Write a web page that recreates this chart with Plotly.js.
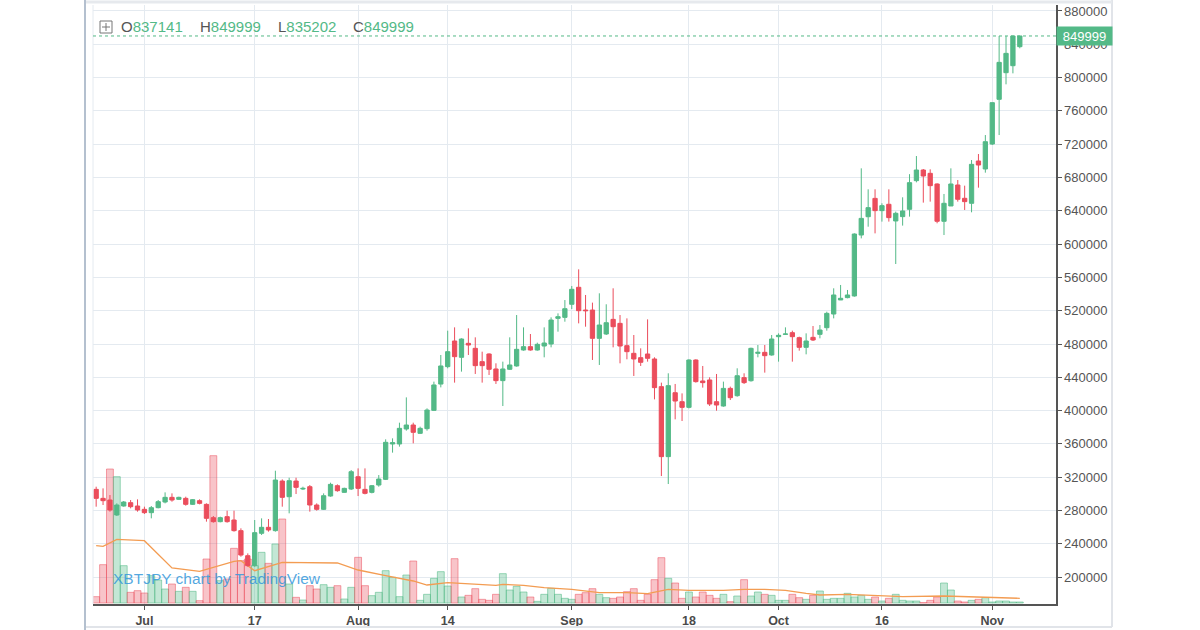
<!DOCTYPE html>
<html><head><meta charset="utf-8">
<script src="https://cdn.plot.ly/plotly-3.0.1.min.js"></script>
<style>html,body{margin:0;padding:0;background:#fff;}#chart{width:1200px;height:630px;}</style>
</head><body><div id="chart"></div>
<script>
// ---- data (daily XBTJPY, 2017-06-24 .. 2017-11-05) ----
const symbol = 'XBTJPY';
const startDay = [2017, 5, 24];
const openP = [
305400,294600,292600,274600,285400,289400,285400,
281400,277400,283400,290200,295800,293400,294600,287400,291800,287400,271400,266600,272600,268600,255800,225700,213700,252600,259800,255800,315400,296600,315400,305800,308600,286600,281400,297400,309800,301800,305800,
320600,305400,301800,310600,317400,359900,359900,377900,382700,372700,378300,400300,431900,452800,483600,464000,480800,474800,458800,468000,450000,436000,449600,453600,472800,476800,472800,477600,480000,510800,512000,
527700,548100,520800,520800,486800,492000,509600,504800,478000,468800,463600,468000,462000,428800,344700,421500,410700,403900,460800,435600,436800,410700,405500,426700,417900,439600,435900,468800,470000,466800,
488800,491600,493600,487600,476000,488000,491600,499600,516000,532900,535700,537700,610900,632900,654900,640200,647800,627800,633000,641800,676200,689000,685000,672200,627400,645800,671000,655000,649000,699800,690200,
720200,773900,805900,814300,837141];
const highP = [
308600,306600,298600,288600,291400,292600,293400,
284600,285400,292600,301800,300600,296600,296600,293800,293400,288600,273400,272600,279800,279800,258600,228500,268600,270600,269800,327800,317400,319400,319400,308600,310600,288600,300600,313400,311400,307400,328600,
330600,330600,310600,322600,365500,366700,385500,415900,385500,380700,402700,434800,466800,496000,500000,486800,498800,488000,470800,468800,456800,458800,488000,514800,500000,492000,481600,500000,512000,516800,532800,
549700,569700,538900,529700,540900,527700,546900,514800,510800,490800,474800,509600,464000,433600,444800,432000,420700,461600,461600,453600,440000,444000,434800,428800,450800,444800,475600,478800,478800,490800,
492800,500000,496000,488800,492800,501600,502800,518800,546900,550900,544900,612900,691000,665800,665800,649000,665800,639000,656200,684000,705800,690200,689800,673000,660200,691000,677000,670200,701000,708200,731000,
769900,850000,850000,850000,849999];
const lowP = [
284600,286600,278600,273400,284600,282600,278600,
275800,270600,282600,288600,290600,292600,285800,286600,287400,266600,265400,265800,265400,254600,224500,212500,212500,250600,254600,254600,284600,276600,299800,304600,278600,279800,280600,296600,302600,301400,304600,
297400,299400,300600,308600,316600,349500,356700,375900,360700,371900,375900,399500,427900,450800,433600,446800,466800,444000,433600,442800,432000,405500,448800,452800,472000,472000,472000,464000,476000,494800,506800,
522000,504800,500800,460800,454800,490800,476000,456800,461600,441600,453600,458800,413500,321400,311800,389500,387500,402700,433600,427600,405500,399900,404700,412700,416700,432000,434800,464000,445600,466000,
458800,490800,458800,472000,467600,483600,486800,496000,510800,532900,534900,536900,606900,620900,612900,627000,627000,576100,622200,633000,674200,649800,651000,625000,610900,645800,651000,641000,638200,667800,685800,
719000,731000,791900,805100,835202];
const closeP = [
294600,291800,280600,286600,290200,284600,280600,
277400,283400,290600,295800,292600,295800,287400,293000,288600,270600,266600,271400,266600,255800,226500,213700,253400,259800,256600,316600,295800,315800,307800,306600,286600,281400,297800,311400,303800,306600,326600,
306600,300600,309800,317800,361900,361500,378700,382700,373900,378700,400700,430800,453600,470800,464800,486000,478800,454000,454000,449600,436000,450000,454800,473600,476800,472800,479600,481200,508800,512800,522400,
545700,520000,520000,486800,502800,505600,500800,477600,470800,462000,458000,462800,427600,344700,430000,411500,403900,460800,434800,433600,407900,406700,426700,415500,441900,433600,474800,470000,466000,486000,
490400,492000,488800,476000,483600,484800,496800,516800,538900,534900,538900,612100,630900,643800,640200,646200,631800,637000,639800,673800,689000,681800,670200,627400,649000,672200,653800,651000,695800,695000,723000,
769900,818300,829100,849999,849999];
const volume = [
19,115,402,379,112,32,37,
30,82,69,42,57,35,47,35,7,132,442,67,72,164,127,132,112,152,119,177,252,57,17,9,52,42,55,47,52,12,47,
137,52,22,32,97,77,19,84,126,8,26,74,94,51,133,18,23,43,11,8,26,88,39,50,33,18,5,26,44,26,14,
11,26,31,43,26,16,14,18,34,43,8,26,70,136,74,60,14,33,18,33,23,14,26,4,21,70,21,33,26,23,
8,8,26,16,11,23,36,11,14,14,29,18,23,11,18,6,14,26,8,6,6,1,8,18,60,39,6,3,8,11,16,
3,6,6,3,3];
const maDates = ['2017-06-24','2017-06-25','2017-06-27','2017-07-01','2017-07-05','2017-07-09','2017-07-14','2017-07-15','2017-07-17','2017-07-21','2017-07-29','2017-08-01','2017-08-05','2017-08-08','2017-08-09','2017-08-11','2017-08-14','2017-08-21','2017-08-22','2017-08-25','2017-08-28','2017-09-01','2017-09-05','2017-09-09','2017-09-12','2017-09-15','2017-09-18','2017-09-23','2017-09-26','2017-09-29','2017-10-02','2017-10-05','2017-10-07','2017-10-11','2017-10-15','2017-10-19','2017-10-25','2017-10-28','2017-11-01','2017-11-05'];
const maValues = [172,170,191,187,105,95,125,127,97,122,120,99,82,71,66,54,61,53,56,53,46,41,31,31,28,41,38,38,41,41,38,29,24,26,23,19,21,19,18,14];
const tickDates = ['2017-07-01','2017-07-17','2017-08-01','2017-08-14','2017-09-01','2017-09-18','2017-10-01','2017-10-16','2017-11-01'];
const tickLabels = ['Jul','17','Aug','14','Sep','18','Oct','16','Nov'];
const priceTicks = [200000,240000,280000,320000,360000,400000,440000,480000,520000,560000,600000,640000,680000,720000,760000,800000,840000,880000];

// ---- build ----
const dates = openP.map((_, i) => new Date(Date.UTC(startDay[0], startDay[1], startDay[2] + i)).toISOString().slice(0, 10));
const UP = '#53b987', DOWN = '#eb4d5c';
const isUp = openP.map((o, i) => closeP[i] >= o);
const volFill = isUp.map(u => u ? 'rgba(83,185,135,0.35)' : 'rgba(235,77,92,0.33)');
const volLine = isUp.map(u => u ? 'rgba(83,185,135,0.55)' : 'rgba(235,77,92,0.5)');
const n = openP.length - 1;
const lastClose = closeP[n];

// pixel -> paper helpers for decorations
const L = 93, R = 1056, T = 5, B = 604;
const xp = px => (px - L) / (R - L);
const yp = py => (B - py) / (B - T);

const traces = [
  {type: 'bar', x: dates, y: volume, xaxis: 'x', yaxis: 'y',
   marker: {color: volFill, line: {color: volLine, width: 1}}, hoverinfo: 'skip'},
  {type: 'scatter', mode: 'lines', x: maDates, y: maValues, xaxis: 'x', yaxis: 'y',
   line: {color: '#f39c52', width: 1.3}, hoverinfo: 'skip'},
  {type: 'candlestick', x: dates, open: openP, high: highP, low: lowP, close: closeP,
   xaxis: 'x', yaxis: 'y2', whiskerwidth: 0,
   increasing: {line: {color: UP, width: 1}, fillcolor: UP},
   decreasing: {line: {color: DOWN, width: 1}, fillcolor: DOWN},
   hoverinfo: 'skip'}
];

const hdrFont = {family: 'Liberation Sans, Arial, sans-serif', size: 15, color: '#555'};
const hdr = (label, val, px) => ({
  xref: 'paper', yref: 'paper', x: xp(px), y: yp(27), xanchor: 'left', yanchor: 'middle',
  showarrow: false, font: hdrFont, borderpad: 0,
  text: label + '<span style="color:' + UP + '">' + val + '</span>'
});

const layout = {
  width: 1200, height: 630,
  margin: {l: L, r: 1200 - R, t: T, b: 630 - B, pad: 0},
  paper_bgcolor: '#ffffff', plot_bgcolor: '#ffffff',
  showlegend: false, bargap: 0, hovermode: false,
  boxgap: 0.38, boxgroupgap: 0,
  xaxis: {
    type: 'date', range: ['2017-06-23 13:00', '2017-11-10 06:00'],
    rangeslider: {visible: false},
    tickmode: 'array', tickvals: tickDates, ticktext: tickLabels,
    showgrid: true, gridcolor: '#e4eaf0', gridwidth: 1,
    ticks: 'outside', ticklen: 4, tickcolor: '#555', tickwidth: 1,
    showline: true, linecolor: '#555', linewidth: 1.5, zeroline: false,
    tickfont: {family: 'Liberation Sans, Arial, sans-serif', size: 12.5, color: '#4a4a4a', weight: 'bold'},
    fixedrange: true
  },
  yaxis: {range: [-3, 1794], visible: false, showgrid: false, zeroline: false, fixedrange: true},
  yaxis2: {
    overlaying: 'y', side: 'right', range: [167700, 887200],
    tickmode: 'array', tickvals: priceTicks, tickformat: 'd',
    showgrid: true, gridcolor: '#e4eaf0', gridwidth: 1,
    ticks: 'outside', ticklen: 4, tickcolor: '#555', tickwidth: 1,
    showline: true, linecolor: '#555', linewidth: 1.5, zeroline: false,
    tickfont: {family: 'Liberation Sans, Arial, sans-serif', size: 13, color: '#555'},
    fixedrange: true
  },
  shapes: [
    // widget frame
    {type: 'line', xref: 'paper', yref: 'paper', x0: xp(1112), x1: xp(1112), y0: yp(0), y1: yp(627), line: {color: '#e1e4e9', width: 2}},
    {type: 'line', xref: 'paper', yref: 'paper', x0: xp(85), x1: xp(1112), y0: yp(627), y1: yp(627), line: {color: '#e1e4e9', width: 2}},
    {type: 'line', xref: 'paper', yref: 'paper', x0: xp(85), x1: xp(1112), y0: yp(2), y1: yp(2), line: {color: '#e6e9ed', width: 3}},
    {type: 'line', xref: 'paper', yref: 'paper', x0: xp(85), x1: xp(85), y0: yp(0), y1: yp(630), line: {color: '#b4c0cf', width: 2}},
    {type: 'line', xref: 'paper', yref: 'paper', x0: 0, x1: 0, y0: 0, y1: 1, line: {color: '#e4eaf0', width: 1}},
    // last price dotted line
    {type: 'line', xref: 'paper', yref: 'y2', x0: 0, x1: 1, y0: lastClose, y1: lastClose, line: {color: UP, width: 1, dash: 'dot'}},
    // legend icon (square with plus)
    {type: 'rect', xref: 'paper', yref: 'paper', x0: xp(100), x1: xp(112), y0: yp(33), y1: yp(21), line: {color: '#777', width: 1}, fillcolor: 'rgba(0,0,0,0)'},
    {type: 'line', xref: 'paper', yref: 'paper', x0: xp(106), x1: xp(106), y0: yp(31), y1: yp(23), line: {color: '#777', width: 1}},
    {type: 'line', xref: 'paper', yref: 'paper', x0: xp(102), x1: xp(110), y0: yp(27), y1: yp(27), line: {color: '#777', width: 1}}
  ],
  annotations: [
    hdr('O', openP[n], 120),
    hdr('H', highP[n], 199),
    hdr('L', lowP[n], 277),
    hdr('C', closeP[n], 352),
    {xref: 'paper', yref: 'y2', x: 1, y: lastClose, xanchor: 'left', yanchor: 'middle',
     showarrow: false, text: String(lastClose), bgcolor: UP, borderpad: 2, width: 51, height: 14,
     font: {family: 'Liberation Sans, Arial, sans-serif', size: 13, color: '#ffffff'}},
    {xref: 'paper', yref: 'paper', x: xp(111), y: yp(578), xanchor: 'left', yanchor: 'middle',
     showarrow: false, text: symbol + ' chart by TradingView',
     font: {family: 'Liberation Sans, Arial, sans-serif', size: 15.5, color: 'rgba(52,152,219,0.85)'}}
  ]
};

Plotly.newPlot('chart', traces, layout, {staticPlot: true, displayModeBar: false});
</script>
</body></html>
